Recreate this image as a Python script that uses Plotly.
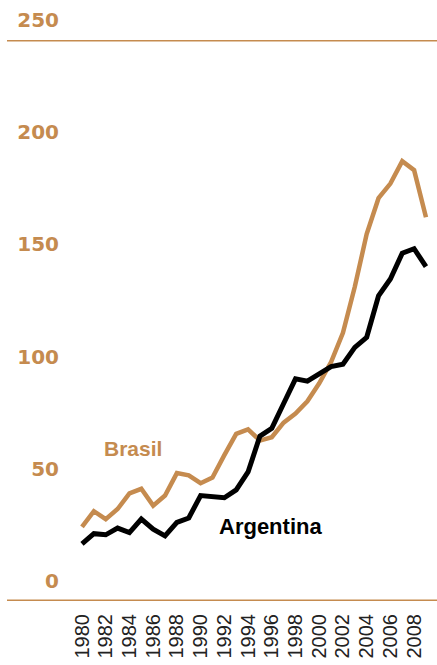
import plotly.graph_objects as go

years = list(range(1980, 2010))
brasil = [33, 40, 36.5, 41, 48, 50, 42.5, 47, 57, 56, 52.5, 55, 65, 74.5, 76.5, 71.5,
          73, 79.5, 83.5, 89, 97, 106.5, 119.5, 140, 163.5, 179.5, 186, 196, 192, 171]
argentina = [25.5, 30, 29.5, 32.5, 30.5, 36.5, 32, 29, 35, 37, 47, 46.5, 46, 49.5, 57.5,
             73.5, 77, 88, 99, 98, 101, 104.5, 105.5, 113, 117.5, 136, 143.5, 155, 157, 149]
x_ticks = list(range(1980, 2009, 2))
y_ticks = [0, 50, 100, 150, 200, 250]

TAN = "#C58B4F"

fig = go.Figure()
fig.add_trace(go.Scatter(x=years, y=brasil, mode="lines",
                         line=dict(color=TAN, width=4.5), showlegend=False))
fig.add_trace(go.Scatter(x=years, y=argentina, mode="lines",
                         line=dict(color="#000000", width=5), showlegend=False))

fig.add_annotation(x=1984.3, y=68, text="<b>Brasil</b>", showarrow=False,
                   font=dict(family="Liberation Sans, Arial", size=21, color=TAN))
fig.add_annotation(x=1995.85, y=33, text="<b>Argentina</b>", showarrow=False,
                   font=dict(family="Liberation Sans, Arial", size=22, color="#000000"))

for v in (0, 250):
    fig.add_shape(type="line", xref="paper", yref="y", x0=-53 / 377, x1=1, y0=v, y1=v,
                  line=dict(color=TAN, width=3), layer="above")

fig.update_layout(
    width=437, height=665,
    margin=dict(l=60, r=0, t=40, b=64),
    paper_bgcolor="white", plot_bgcolor="white",
    xaxis=dict(range=[1978.145, 2009.93], tickvals=x_ticks, ticktext=[str(t) for t in x_ticks],
               tickangle=-90, showgrid=False, zeroline=False, showline=False, ticks="",
               ticklabelstandoff=8,
               tickfont=dict(family="Liberation Sans Narrow, Arial Narrow, Liberation Sans",
                             size=20, color="#222222")),
    yaxis=dict(range=[0, 250], tickvals=y_ticks, showgrid=False, zeroline=False,
               showline=False, ticks="", ticklabelshift=-20,
               tickfont=dict(family="DejaVu Sans", size=20, color=TAN, weight="bold")),
)

fig.write_html("out.html")
